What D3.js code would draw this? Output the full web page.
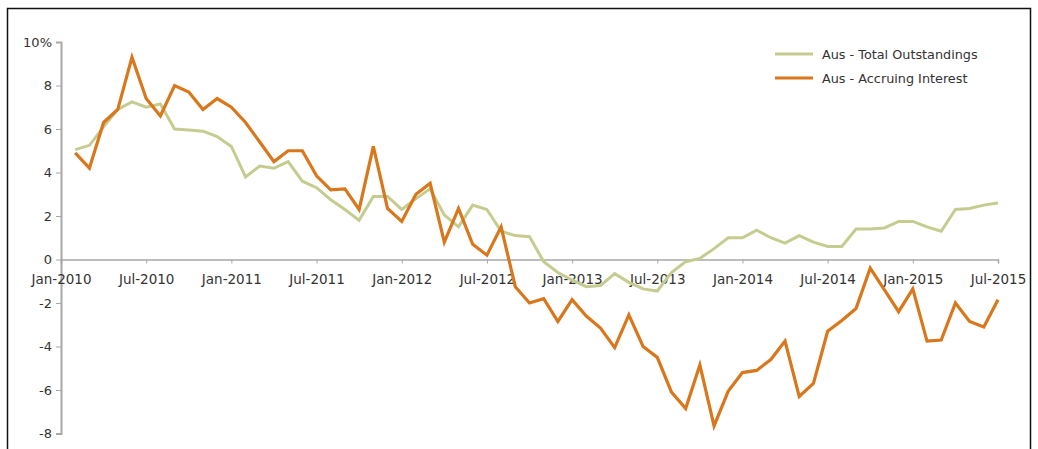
<!DOCTYPE html>
<html>
<head>
<meta charset="utf-8">
<script src="https://cdn.jsdelivr.net/npm/d3@7"></script>
<style>
  html, body { margin: 0; padding: 0; background: #fff; }
  svg { display: block; }
  text { font-family: "DejaVu Sans", Verdana, sans-serif; fill: #333; }
</style>
</head>
<body>
<svg id="chart" width="1038" height="449"></svg>
<script>
// Month index 0 = Jan-2010; observations run Feb-2010 .. Jul-2015 (index 1..66)
const months = d3.range(1, 67);

// Year-on-year growth, %
const totalOutstandings = [
  5.05, 5.25, 6.1, 6.9, 7.25, 7.0, 7.15, 6.0, 5.95, 5.9, 5.65,
  5.2, 3.8, 4.3, 4.2, 4.5, 3.6, 3.3, 2.75, 2.3, 1.8, 2.9,
  2.9, 2.3, 2.8, 3.25, 2.05, 1.5, 2.5, 2.3, 1.3, 1.1, 1.05,
  -0.1, -0.6, -0.95, -1.25, -1.2, -0.65, -1.05, -1.35, -1.45, -0.6,
  -0.1, 0.05, 0.5, 1.0, 1.0, 1.35, 1.0, 0.75, 1.1, 0.8,
  0.6, 0.6, 1.4, 1.4, 1.45, 1.75, 1.75, 1.5, 1.3, 2.3,
  2.35, 2.5, 2.6
];
const accruingInterest = [
  4.9, 4.2, 6.3, 6.9, 9.3, 7.4, 6.6, 8.0, 7.7, 6.9, 7.4,
  7.0, 6.3, 5.4, 4.5, 5.0, 5.0, 3.85, 3.2, 3.25, 2.3, 5.2,
  2.35, 1.75, 3.0, 3.5, 0.8, 2.35, 0.7, 0.2, 1.5, -1.25, -2.0,
  -1.8, -2.85, -1.85, -2.6, -3.15, -4.05, -2.55, -4.0, -4.5, -6.1,
  -6.85, -4.85, -7.65, -6.05, -5.2, -5.1, -4.6, -3.75, -6.3, -5.7,
  -3.3, -2.8, -2.25, -0.4, -1.4, -2.4, -1.35, -3.75, -3.7, -2.0,
  -2.85, -3.1, -1.85
];

const seriesNames = ["Aus - Total Outstandings", "Aus - Accruing Interest"];
const seriesColors = ["#c6cc8f", "#d8771b"];

const xTickMonths = [0, 6, 12, 18, 24, 30, 36, 42, 48, 54, 60, 66];
const xTickLabels = ["Jan-2010", "Jul-2010", "Jan-2011", "Jul-2011", "Jan-2012", "Jul-2012",
                     "Jan-2013", "Jul-2013", "Jan-2014", "Jul-2014", "Jan-2015", "Jul-2015"];
const yTicks = [-8, -6, -4, -2, 0, 2, 4, 6, 8, 10];

const svg = d3.select("#chart");

// frame
svg.append("path")
  .attr("d", "M7.5,449 V8.5 H1030.5 V449")
  .attr("fill", "none").attr("stroke", "#111").attr("stroke-width", 1.5);

const x = d3.scaleLinear().domain([0, 66]).range([61, 998]);
const y = d3.scaleLinear().domain([-8, 10]).range([433.5, 42]);

// y axis
const yAxis = svg.append("g").attr("transform", `translate(${x(0)},0)`)
  .call(d3.axisLeft(y).tickValues(yTicks).tickSize(5).tickPadding(4)
    .tickFormat(d => d === 10 ? "10%" : String(d)));
yAxis.select(".domain").attr("stroke", "#a8a8a8").attr("stroke-width", 2);
yAxis.selectAll(".tick line").attr("stroke", "#a8a8a8");
yAxis.selectAll(".tick text").style("font-size", "13px").attr("fill", "#333");

// x axis along zero
const xAxis = svg.append("g").attr("transform", `translate(0,${y(0)})`)
  .call(d3.axisBottom(x).tickValues(xTickMonths).tickSize(4).tickPadding(11)
    .tickFormat((d, i) => xTickLabels[i]));
xAxis.select(".domain").attr("stroke", "#a8a8a8").attr("stroke-width", 1.5);
xAxis.selectAll(".tick line").attr("stroke", "#a8a8a8");
xAxis.selectAll(".tick text").style("font-size", "13.5px").attr("fill", "#333");

const line = d3.line().x((d, i) => x(months[i])).y(d => y(d));

[totalOutstandings, accruingInterest].forEach((vals, k) => {
  svg.append("path")
    .datum(vals)
    .attr("fill", "none")
    .attr("stroke", seriesColors[k])
    .attr("stroke-width", k === 1 ? 3.2 : 3)
    .attr("stroke-linejoin", "miter")
    .attr("d", line);
});

// legend
const legend = svg.append("g");
seriesNames.forEach((name, k) => {
  const ly = 54 + k * 24;
  legend.append("line")
    .attr("x1", 775).attr("x2", 813).attr("y1", ly).attr("y2", ly)
    .attr("stroke", seriesColors[k]).attr("stroke-width", 3);
  legend.append("text")
    .attr("x", 822).attr("y", ly + 4.5)
    .style("font-size", "12.8px")
    .text(name);
});
</script>
</body>
</html>
